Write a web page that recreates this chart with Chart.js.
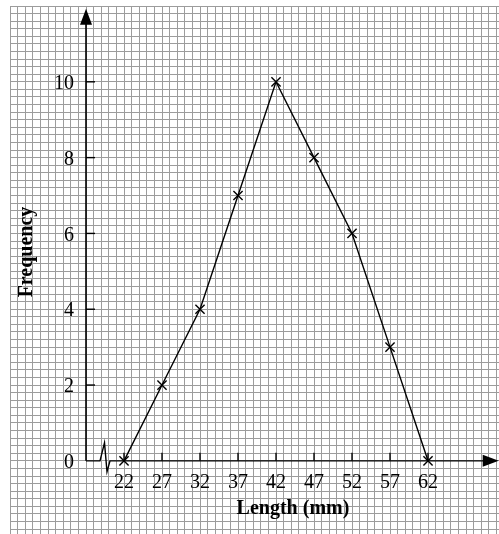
<!DOCTYPE html>
<html>
<head>
<meta charset="utf-8">
<script src="https://cdn.jsdelivr.net/npm/chart.js@4"></script>
<style>
  html, body { margin: 0; padding: 0; background: #fff; overflow: hidden; }
  canvas { display: block; }
</style>
</head>
<body>
<canvas id="freqGraph" width="499" height="534"></canvas>
<script>
// dados do polígono de frequência
const lengths = [22, 27, 32, 37, 42, 47, 52, 57, 62];
const frequencies = [0, 2, 4, 7, 10, 8, 6, 3, 0];
const yTickLabels = [0, 2, 4, 6, 8, 10];
const xTickLabels = [22, 27, 32, 37, 42, 47, 52, 57, 62];
const xTitle = 'Length (mm)';
const yTitle = 'Frequency';

// origem dos eixos (o eixo x tem uma quebra entre 17 e 22)
const xOrigin = 17;
const xAxisEnd = 71.3;
const yAxisEnd = 11.93;

const serif = '"Liberation Serif", "DejaVu Serif", serif';

// desenha os eixos, setas, marcas e textos por cima do papel quadriculado
const axesPlugin = {
    id: 'axesPlugin',
    beforeDatasetsDraw(chart) {
        const ctx = chart.ctx;
        const xs = chart.scales.x;
        const ys = chart.scales.y;
        const ox = xs.getPixelForValue(xOrigin);
        const oy = ys.getPixelForValue(0);
        const xEnd = xs.getPixelForValue(xAxisEnd);
        const yEnd = ys.getPixelForValue(yAxisEnd);

        ctx.save();
        ctx.strokeStyle = '#000';
        ctx.fillStyle = '#000';
        ctx.lineWidth = 1.6;

        // eixo y
        ctx.beginPath();
        ctx.moveTo(ox, oy);
        ctx.lineTo(ox, yEnd + 10);
        ctx.stroke();
        ctx.beginPath();
        ctx.moveTo(ox, yEnd);
        ctx.lineTo(ox - 6, yEnd + 16);
        ctx.lineTo(ox + 6, yEnd + 16);
        ctx.closePath();
        ctx.fill();

        // eixo x com a quebra
        ctx.lineWidth = 1.4;
        ctx.beginPath();
        ctx.moveTo(ox, oy);
        ctx.lineTo(ox + 14, oy);
        ctx.lineTo(ox + 18.5, oy - 18);
        ctx.lineTo(ox + 21, oy + 11);
        ctx.lineTo(ox + 24, oy);
        ctx.lineTo(xEnd - 10, oy);
        ctx.stroke();
        ctx.beginPath();
        ctx.moveTo(xEnd, oy);
        ctx.lineTo(xEnd - 16, oy - 6);
        ctx.lineTo(xEnd - 16, oy + 6);
        ctx.closePath();
        ctx.fill();

        // marcas e rótulos do eixo y
        ctx.font = '20px ' + serif;
        ctx.textAlign = 'right';
        ctx.textBaseline = 'middle';
        yTickLabels.forEach(function(v) {
            const py = ys.getPixelForValue(v);
            if (v !== 0) {
                ctx.beginPath();
                ctx.moveTo(ox, py);
                ctx.lineTo(ox + 9, py);
                ctx.stroke();
            }
            ctx.fillText(String(v), ox - 12, py + 2);
        });

        // marcas e rótulos do eixo x
        ctx.textAlign = 'center';
        xTickLabels.forEach(function(v) {
            const px = xs.getPixelForValue(v);
            ctx.beginPath();
            ctx.moveTo(px, oy);
            ctx.lineTo(px, oy - 8);
            ctx.stroke();
            ctx.fillText(String(v), px, oy + 22);
        });

        // títulos
        ctx.font = 'bold 20px ' + serif;
        ctx.fillText(xTitle, 293, 509);
        ctx.translate(27, 252);
        ctx.rotate(-Math.PI / 2);
        ctx.fillText(yTitle, 0, 0);
        ctx.restore();
    }
};

const ctx = document.getElementById('freqGraph').getContext('2d');
new Chart(ctx, {
    type: 'line',
    data: {
        datasets: [{
            data: lengths.map((x, i) => ({ x: x, y: frequencies[i] })),
            borderColor: '#000',
            borderWidth: 1.4,
            tension: 0,
            pointStyle: 'crossRot',
            pointRadius: 6.5,
            pointBorderWidth: 1.4,
            pointBorderColor: '#000',
            pointBackgroundColor: '#000'
        }]
    },
    options: {
        responsive: false,
        animation: false,
        devicePixelRatio: 1,
        layout: { autoPadding: false, padding: { left: 10, top: 6, right: 0, bottom: 0 } },
        plugins: {
            legend: { display: false },
            tooltip: { enabled: false }
        },
        scales: {
            x: {
                type: 'linear',
                min: 7,
                max: 71.34,
                border: { display: false },
                grid: { color: '#9c9c9c', lineWidth: 1, drawTicks: false },
                ticks: { display: false },
                afterBuildTicks: function(scale) {
                    // papel quadriculado: uma linha por mm
                    let t = [];
                    for (let v = 7; v <= 71; v++) t.push({ value: v });
                    scale.ticks = t;
                }
            },
            y: {
                type: 'linear',
                min: -1.93,
                max: 12,
                border: { display: false },
                grid: { color: '#9c9c9c', lineWidth: 1, drawTicks: false },
                ticks: { display: false },
                afterBuildTicks: function(scale) {
                    // uma linha a cada 0,2 de frequência
                    let t = [];
                    for (let k = -9; k <= 60; k++) t.push({ value: k / 5 });
                    scale.ticks = t;
                }
            }
        }
    },
    plugins: [axesPlugin]
});
</script>
</body>
</html>
